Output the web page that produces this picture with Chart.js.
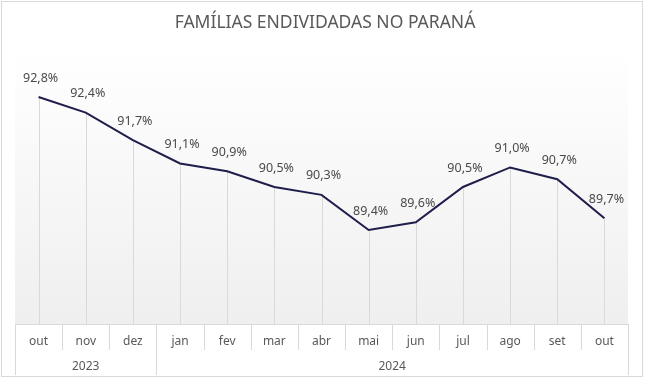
<!DOCTYPE html>
<html>
<head>
<meta charset="utf-8">
<script src="https://cdn.jsdelivr.net/npm/chart.js@4.4.1/dist/chart.umd.min.js"></script>
<style>
  html, body { margin: 0; padding: 0; background: #fff; }
  #wrap { width: 649px; height: 379px; position: relative; }
</style>
</head>
<body>
<div id="wrap"><canvas id="myChart" width="649" height="379"></canvas></div>
<script>
const months = ['out', 'nov', 'dez', 'jan', 'fev', 'mar', 'abr', 'mai', 'jun', 'jul', 'ago', 'set', 'out']
const values = [92.8, 92.4, 91.7, 91.1, 90.9, 90.5, 90.3, 89.4, 89.6, 90.5, 91.0, 90.7, 89.7]
const years = ['2023', '2024']
const yearSpans = [3, 10]

const titleText = 'FAMÍLIAS ENDIVIDADAS NO PARANÁ'
const fontName = '"Noto Sans", "Liberation Sans", sans-serif'
const gridColor = '#d9d9d9'
const textColor = '#595959'

const fmt = v => v.toFixed(1).replace('.', ',') + '%'

// fundo em degrade, linhas de queda, rotulos e eixo em tabela
const extras = {
  id: 'extras',
  beforeDatasetsDraw(chart) {
    const ctx = chart.ctx
    const a = chart.chartArea
    const x = chart.scales.x
    const y = chart.scales.y
    const g = ctx.createLinearGradient(0, a.top, 0, a.bottom)
    g.addColorStop(0, '#ffffff')
    g.addColorStop(1, '#efefef')
    ctx.save()
    ctx.fillStyle = g
    ctx.fillRect(a.left, a.top, a.right - a.left, a.bottom - a.top)
    ctx.strokeStyle = gridColor
    ctx.lineWidth = 1
    values.forEach((v, i) => {
      const px = Math.round(x.getPixelForValue(i)) + 0.5
      ctx.beginPath()
      ctx.moveTo(px, y.getPixelForValue(v))
      ctx.lineTo(px, a.bottom)
      ctx.stroke()
    })
    ctx.restore()
  },
  afterDraw(chart) {
    const ctx = chart.ctx
    const a = chart.chartArea
    const x = chart.scales.x
    const y = chart.scales.y
    const step = x.getPixelForValue(1) - x.getPixelForValue(0)
    const bottom = a.bottom
    ctx.save()

    // titulo
    ctx.fillStyle = textColor
    ctx.font = '17.5px ' + fontName
    ctx.textAlign = 'center'
    ctx.textBaseline = 'middle'
    ctx.fillText(titleText, chart.width / 2 + 0.5, 23)

    // rotulos de dados
    ctx.font = '12.5px ' + fontName
    ctx.fillStyle = '#4a4a4a'
    values.forEach((v, i) => {
      ctx.fillText(fmt(v), x.getPixelForValue(i) + 2, y.getPixelForValue(v) - 19)
    })

    // eixo em tabela
    ctx.strokeStyle = gridColor
    ctx.lineWidth = 1
    const line = (x1, y1, x2, y2) => {
      ctx.beginPath()
      ctx.moveTo(x1, y1)
      ctx.lineTo(x2, y2)
      ctx.stroke()
    }
    line(a.left, bottom + 0.5, a.right, bottom + 0.5)
    line(Math.round(a.left) + 0.5, bottom, Math.round(a.left) + 0.5, bottom + 51)
    line(Math.round(a.right) + 0.5, bottom, Math.round(a.right) + 0.5, bottom + 51)
    for (let i = 1; i < months.length; i++) {
      const px = Math.round(x.getPixelForValue(i) - step / 2) + 0.5
      line(px, bottom, px, bottom + 26)
    }
    ctx.font = '12px ' + fontName
    ctx.fillStyle = textColor
    months.forEach((m, i) => {
      ctx.fillText(m, x.getPixelForValue(i), bottom + 18)
    })
    let start = 0
    years.forEach((yr, k) => {
      const end = start + yearSpans[k] - 1
      const left = x.getPixelForValue(start) - step / 2
      const right = x.getPixelForValue(end) + step / 2
      ctx.fillText(yr, (left + right) / 2, bottom + 43)
      if (k > 0) line(Math.round(left) + 0.5, bottom, Math.round(left) + 0.5, bottom + 51)
      start = end + 1
    })

    // borda externa
    ctx.strokeStyle = '#d9d9d9'
    ctx.strokeRect(1.5, 1.5, 641, 375)
    ctx.restore()
  }
}

const myChart = new Chart(document.getElementById('myChart'), {
  type: 'line',
  data: {
    labels: months,
    datasets: [{
      data: values,
      borderColor: '#1f1d4a',
      borderWidth: 2,
      pointRadius: 0,
      tension: 0,
      fill: false
    }]
  },
  options: {
    responsive: false,
    animation: false,
    layout: { padding: { top: 50, bottom: 55, left: 15, right: 21 } },
    plugins: { legend: { display: false }, tooltip: { enabled: false } },
    scales: {
      x: { display: false, offset: true },
      y: { display: false, min: 87, max: 94 }
    }
  },
  plugins: [extras]
})
</script>
</body>
</html>
